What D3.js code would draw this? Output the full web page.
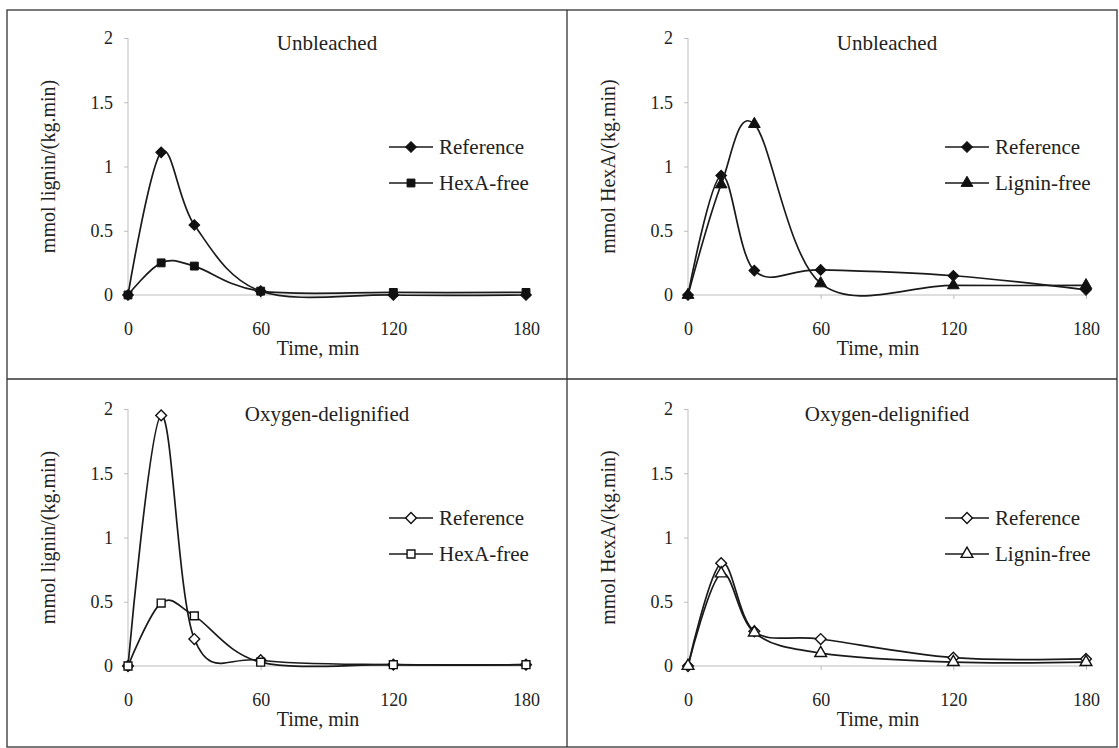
<!DOCTYPE html>
<html>
<head>
<meta charset="utf-8">
<script src="https://cdn.jsdelivr.net/npm/d3@7"></script>
<style>
  body { margin: 0; background: #fff; }
  svg, svg text { font-family: "Liberation Serif", "Times New Roman", Times, "DejaVu Serif", serif; }
  .axis path, .axis line { stroke: #bdbdbd; }
  .axis text { fill: #222; font-size: 18px; }
</style>
</head>
<body>
<svg id="chart" width="1119" height="748"></svg>
<script>
// sampling times (min)
var times = [0, 15, 30, 60, 120, 180];
var xTicks = [0, 60, 120, 180];
var yTicks = [0, 0.5, 1, 1.5, 2];

// lignin and HexA consumption rates
var unbleachedLigninRef   = [0, 1.11, 0.545, 0.03, 0.0, 0.0];
var unbleachedLigninFree  = [0, 0.25, 0.225, 0.03, 0.02, 0.02];
var unbleachedHexaRef     = [0, 0.93, 0.19, 0.195, 0.15, 0.04];
var unbleachedHexaFree    = [0, 0.86, 1.33, 0.09, 0.075, 0.075];
var oxygenLigninRef       = [0, 1.95, 0.21, 0.045, 0.01, 0.01];
var oxygenLigninFree      = [0, 0.49, 0.39, 0.03, 0.01, 0.01];
var oxygenHexaRef         = [0, 0.80, 0.27, 0.21, 0.065, 0.055];
var oxygenHexaFree        = [0, 0.72, 0.26, 0.10, 0.03, 0.03];

var FONT = '"Liberation Serif", "Times New Roman", Times, "DejaVu Serif", serif';

var svg = d3.select("#chart").attr("font-family", FONT);

// panel frames
var left = 7, top0 = 10, right = 1117, bottom = 747, midX = 567, midY = 379;
svg.append("rect")
    .attr("x", left).attr("y", top0)
    .attr("width", right - left).attr("height", bottom - top0)
    .attr("fill", "none").attr("stroke", "#333").attr("stroke-width", 1.3);
svg.append("line").attr("x1", midX).attr("x2", midX).attr("y1", top0).attr("y2", bottom)
    .attr("stroke", "#333").attr("stroke-width", 1.3);
svg.append("line").attr("x1", left).attr("x2", right).attr("y1", midY).attr("y2", midY)
    .attr("stroke", "#333").attr("stroke-width", 1.3);

var panels = [
  { ox: 0, oy: 0, title: "Unbleached", ylabel: "mmol lignin/(kg.min)", legX: 261,
    series: [
      { name: "Reference", values: unbleachedLigninRef, shape: "diamond", open: false },
      { name: "HexA-free", values: unbleachedLigninFree, shape: "square", open: false }
    ] },
  { ox: 560, oy: 0, title: "Unbleached", ylabel: "mmol HexA/(kg.min)", legX: 257,
    series: [
      { name: "Reference", values: unbleachedHexaRef, shape: "diamond", open: false },
      { name: "Lignin-free", values: unbleachedHexaFree, shape: "triangle", open: false }
    ] },
  { ox: 0, oy: 371, title: "Oxygen-delignified", ylabel: "mmol lignin/(kg.min)", legX: 261,
    series: [
      { name: "Reference", values: oxygenLigninRef, shape: "diamond", open: true },
      { name: "HexA-free", values: oxygenLigninFree, shape: "square", open: true }
    ] },
  { ox: 560, oy: 371, title: "Oxygen-delignified", ylabel: "mmol HexA/(kg.min)", legX: 257,
    series: [
      { name: "Reference", values: oxygenHexaRef, shape: "diamond", open: true },
      { name: "Lignin-free", values: oxygenHexaFree, shape: "triangle", open: true }
    ] }
];

var plotW = 398, plotH = 257;

function symbolPath(shape) {
  if (shape == "diamond") return d3.symbol(d3.symbolSquare, 58)();
  if (shape == "square") return d3.symbol(d3.symbolSquare, 62)();
  return d3.symbol(d3.symbolTriangle, 60)();
}

panels.forEach(function(p) {
  var g = svg.append("g").attr("transform", "translate(" + (128 + p.ox) + "," + (38 + p.oy) + ")");

  var x = d3.scaleLinear().domain([0, 180]).range([0, plotW]);
  var y = d3.scaleLinear().domain([0, 2]).range([plotH, 0]);

  g.append("g").attr("class", "axis")
      .call(d3.axisLeft(y).tickValues(yTicks).tickSize(4).tickPadding(11).tickFormat(function(d) { return d; }))
      .call(function(a) {
        a.attr("font-family", FONT).attr("font-size", 18);
        a.select(".domain").attr("d", "M0," + plotH + "V0");
      });

  g.append("g").attr("class", "axis")
      .attr("transform", "translate(0," + plotH + ")")
      .call(d3.axisBottom(x).tickValues(xTicks).tickSize(4).tickPadding(23))
      .call(function(a) {
        a.attr("font-family", FONT).attr("font-size", 18);
        a.select(".domain").attr("d", "M0,0H" + plotW);
      });

  g.append("text")
      .attr("x", x(90)).attr("y", 12)
      .attr("text-anchor", "middle")
      .attr("font-size", 21).attr("fill", "#222")
      .text(p.title);

  g.append("text")
      .attr("x", x(90) - 9).attr("y", plotH + 60)
      .attr("text-anchor", "middle")
      .attr("font-size", 20).attr("fill", "#222")
      .text("Time, min");

  g.append("text")
      .attr("transform", "translate(-80," + (plotH / 2) + ") rotate(-90)")
      .attr("text-anchor", "middle").attr("dy", "0.35em")
      .attr("font-size", 20).attr("fill", "#222")
      .text(p.ylabel);

  var line = d3.line()
      .x(function(d, i) { return x(times[i]); })
      .y(function(d) { return y(d); })
      .curve(d3.curveCardinal.tension(0));

  p.series.forEach(function(s, k) {
    g.append("path")
        .attr("d", line(s.values))
        .attr("fill", "none").attr("stroke", "#1a1a1a").attr("stroke-width", 1.7);

    g.selectAll(".m" + k)
      .data(s.values)
      .enter().append("path")
        .attr("class", "m" + k)
        .attr("d", symbolPath(s.shape))
        .attr("transform", function(d, i) {
          return "translate(" + x(times[i]) + "," + y(d) + ")" + (s.shape == "diamond" ? " rotate(45)" : "");
        })
        .attr("fill", s.open ? "#fff" : "#111")
        .attr("stroke", "#111").attr("stroke-width", s.open ? 1.4 : 1);

    // legend
    var ly = 109 + k * 36;
    g.append("line")
        .attr("x1", p.legX).attr("x2", p.legX + 44)
        .attr("y1", ly).attr("y2", ly)
        .attr("stroke", "#1a1a1a").attr("stroke-width", 1.7);
    g.append("path")
        .attr("d", symbolPath(s.shape))
        .attr("transform", "translate(" + (p.legX + 22) + "," + ly + ")" + (s.shape == "diamond" ? " rotate(45)" : ""))
        .attr("fill", s.open ? "#fff" : "#111")
        .attr("stroke", "#111").attr("stroke-width", s.open ? 1.4 : 1);
    g.append("text")
        .attr("x", p.legX + 50).attr("y", ly).attr("dy", "0.35em")
        .attr("font-size", 21).attr("fill", "#222")
        .text(s.name);
  });
});
</script>
</body>
</html>
